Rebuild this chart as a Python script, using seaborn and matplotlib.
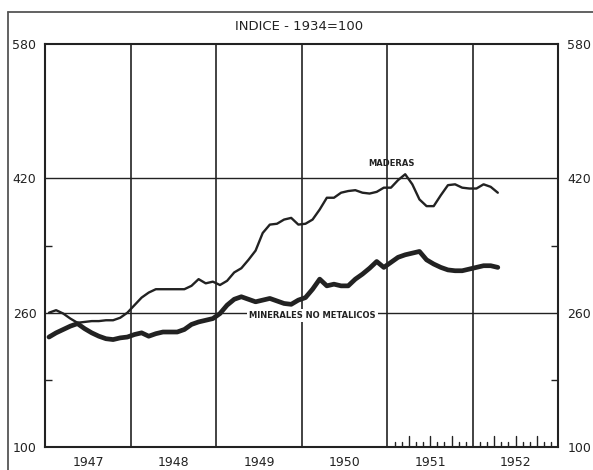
import numpy as np
import pandas as pd
import matplotlib
matplotlib.use("Agg")
import matplotlib.pyplot as plt
from matplotlib.lines import Line2D
import seaborn as sns

years = ["1947", "1948", "1949", "1950", "1951", "1952"]
y_ticks = [100, 260, 420, 580]

maderas = [260, 263, 259, 253, 248, 249, 250, 250, 251, 251, 254, 260,
           269, 278, 284, 288, 288, 288, 288, 288, 292, 300, 295, 297,
           293, 298, 308, 313, 323, 334, 355, 365, 366, 371, 373, 365,
           366, 371, 383, 397, 397, 403, 405, 406, 403, 402, 404, 409,
           409, 418, 425, 413, 395, 387, 387, 400, 412, 413, 409, 408,
           408, 413, 410, 403]

minerales = [231, 236, 240, 244, 247, 241, 236, 232, 229, 228, 230, 231,
             234, 236, 232, 235, 237, 237, 237, 240, 246, 249, 251, 253,
             259, 269, 276, 279, 276, 273, 275, 277, 274, 271, 270, 275,
             278, 288, 300, 292, 294, 292, 292, 300, 306, 313, 321, 314,
             320, 326, 329, 331, 333, 323, 318, 314, 311, 310, 310, 312,
             314, 316, 316, 314]

months = np.arange(len(maderas)) + 0.5
df = pd.DataFrame({
    "mes": np.concatenate([months, months]),
    "indice": maderas + minerales,
    "serie": ["MADERAS"] * len(maderas) + ["MINERALES NO METALICOS"] * len(minerales),
})

sns.set_style("white")
plt.rcParams["font.family"] = ["DejaVu Sans"]
ink = "#222222"

fig = plt.figure(figsize=(5.93, 4.70), dpi=100)
ax = fig.add_axes([0.0766, 0.049, 0.865, 0.857])

# grid lines
for v in [260, 420]:
    ax.axhline(v, color=ink, lw=1.0, zorder=1)
for k in range(1, 6):
    ax.axvline(12 * k, color=ink, lw=1.2, zorder=1)

sns.lineplot(data=df, x="mes", y="indice", hue="serie", size="serie",
             sizes={"MADERAS": 1.7, "MINERALES NO METALICOS": 3.4},
             palette={"MADERAS": ink, "MINERALES NO METALICOS": ink},
             legend=False, ax=ax, zorder=3)

ax.set_xlim(0, 72)
ax.set_ylim(100, 580)
ax.set_xlabel("")
ax.set_ylabel("")
for s in ax.spines.values():
    s.set_color(ink)
    s.set_linewidth(1.5)

ax.set_yticks(y_ticks)
ax.set_yticks([180, 340], minor=True)
ax.tick_params(axis="y", which="major", left=False, right=False,
               labelleft=True, labelright=True, labelsize=9, colors=ink, pad=3)
ax.tick_params(axis="y", which="minor", direction="in", length=5, width=1,
               left=True, right=True, colors=ink)
ax.set_xticks([6 + 12 * i for i in range(len(years))])
ax.set_xticklabels(years)
ax.tick_params(axis="x", which="major", bottom=False, labelsize=9,
               colors=ink, pad=3)

# monthly marks along the base for 1951-1952
for m in range(49, 72):
    if m == 60:
        continue
    h = 13 if m % 3 == 0 else 6
    ax.plot([m, m], [100, 100 + h], color=ink, lw=1.0, zorder=2)

ax.text(48.5, 438, "MADERAS", fontsize=6, fontweight="bold", color=ink,
        ha="center", va="center")
ax.text(37.5, 257, "MINERALES NO METALICOS", fontsize=6, fontweight="bold",
        color=ink, ha="center", va="center",
        bbox=dict(facecolor="white", edgecolor="none", pad=1.5), zorder=2)

fig.text(0.505, 0.943, "INDICE - 1934=100", fontsize=9.5, color=ink,
         ha="center", va="center")

# outer frame
fig.add_artist(Line2D([8 / 593, 8 / 593], [0, 1 - 12 / 470], color="#555555", lw=1.3))
fig.add_artist(Line2D([8 / 593, 1], [1 - 12 / 470, 1 - 12 / 470], color="#555555", lw=1.3))

fig.savefig("out.png", dpi=100)
